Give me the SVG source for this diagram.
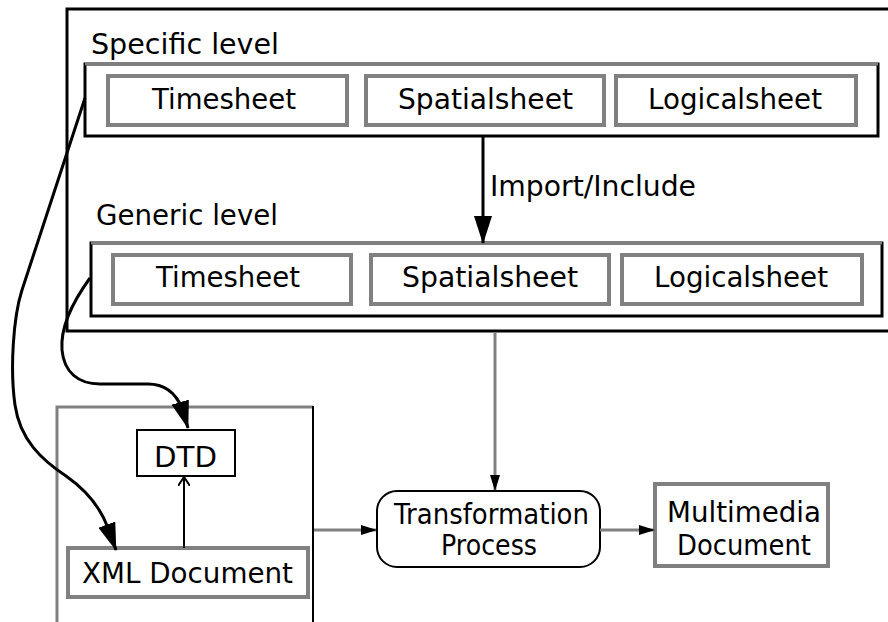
<svg xmlns="http://www.w3.org/2000/svg" width="888" height="622" viewBox="0 0 888 622">
<style>
  text { font-family: "DejaVu Sans", "Liberation Sans", sans-serif; font-size: 28px; fill: #000; }
  .sheet { fill: #fff; stroke: #808080; stroke-width: 4; }
  .level { fill: #fff; stroke: #000; stroke-width: 3; }
  .graytop { stroke: #808080; stroke-width: 3; fill: none; }
  .curve { fill: none; stroke: #000; stroke-width: 3; }
  .gline { fill: none; stroke: #808080; stroke-width: 3; }
</style>
<defs>
  <marker id="bigHead" viewBox="0 0 28 18" refX="27" refY="9" markerWidth="28" markerHeight="18" markerUnits="userSpaceOnUse" orient="auto">
    <path d="M0,0 L28,9 L0,18 Z" fill="#000"/>
  </marker>
  <marker id="smallHead" viewBox="0 0 16 10" refX="15" refY="5" markerWidth="16" markerHeight="10" markerUnits="userSpaceOnUse" orient="auto">
    <path d="M0,0 L16,5 L0,10 Z" fill="#000"/>
  </marker>
  <marker id="openHead" viewBox="0 0 10 12" refX="9" refY="6" markerWidth="10" markerHeight="12" markerUnits="userSpaceOnUse" orient="auto">
    <path d="M0,0 L9,6 L0,12" fill="none" stroke="#000" stroke-width="2"/>
  </marker>
</defs>

<g id="outer">
  <rect x="67" y="9" width="850" height="322" fill="#fff" stroke="#000" stroke-width="3"/>
</g>

<g id="specific-level">
  <text x="91" y="54" textLength="188" lengthAdjust="spacingAndGlyphs">Specific level</text>
  <rect class="level" x="85" y="64" width="793" height="72"/>
  <line class="graytop" x1="85" y1="64" x2="878" y2="64"/>
</g>
<g id="spec-timesheet">
  <rect class="sheet" x="108" y="76" width="239" height="49"/>
  <text x="152" y="109" textLength="144" lengthAdjust="spacingAndGlyphs">Timesheet</text>
</g>
<g id="spec-spatialsheet">
  <rect class="sheet" x="366" y="76" width="238" height="49"/>
  <text x="398" y="109" textLength="175" lengthAdjust="spacingAndGlyphs">Spatialsheet</text>
</g>
<g id="spec-logicalsheet">
  <rect class="sheet" x="616" y="76" width="240" height="49"/>
  <text x="648" y="109" textLength="174" lengthAdjust="spacingAndGlyphs">Logicalsheet</text>
</g>

<g id="generic-level">
  <text x="96" y="225" textLength="182" lengthAdjust="spacingAndGlyphs">Generic level</text>
  <rect class="level" x="91" y="243" width="791" height="73"/>
  <line class="graytop" x1="91" y1="243" x2="882" y2="243"/>
</g>
<g id="gen-timesheet">
  <rect class="sheet" x="113" y="255" width="238" height="49"/>
  <text x="156" y="287" textLength="144" lengthAdjust="spacingAndGlyphs">Timesheet</text>
</g>
<g id="gen-spatialsheet">
  <rect class="sheet" x="371" y="255" width="238" height="49"/>
  <text x="402" y="287" textLength="176" lengthAdjust="spacingAndGlyphs">Spatialsheet</text>
</g>
<g id="gen-logicalsheet">
  <rect class="sheet" x="622" y="255" width="240" height="49"/>
  <text x="654" y="287" textLength="174" lengthAdjust="spacingAndGlyphs">Logicalsheet</text>
</g>

<g id="container">
  <path d="M57,625 V407 H313" fill="none" stroke="#808080" stroke-width="3"/>
  <line x1="313" y1="406" x2="313" y2="625" stroke="#000" stroke-width="2"/>
</g>
<g id="dtd">
  <rect x="137" y="430" width="98" height="46" fill="#fff" stroke="#000" stroke-width="2"/>
  <text x="154" y="467" textLength="63" lengthAdjust="spacingAndGlyphs">DTD</text>
</g>
<g id="xml-document">
  <rect class="sheet" x="68" y="548" width="240" height="49"/>
  <text x="82" y="583" textLength="211" lengthAdjust="spacingAndGlyphs">XML Document</text>
</g>
<g id="transformation">
  <rect x="377" y="491" width="223" height="76" rx="20" ry="20" fill="#fff" stroke="#000" stroke-width="2"/>
  <text x="394" y="524" textLength="195" lengthAdjust="spacingAndGlyphs">Transformation</text>
  <text x="441" y="555" textLength="96" lengthAdjust="spacingAndGlyphs">Process</text>
</g>
<g id="multimedia">
  <rect class="sheet" x="655" y="484" width="173" height="82"/>
  <text x="667" y="522" textLength="154" lengthAdjust="spacingAndGlyphs">Multimedia</text>
  <text x="677" y="555" textLength="134" lengthAdjust="spacingAndGlyphs">Document</text>
</g>

<g id="connectors">
  <line x1="483" y1="137" x2="483" y2="243" stroke="#000" stroke-width="3" marker-end="url(#bigHead)"/>
  <text x="490" y="196" textLength="206" lengthAdjust="spacingAndGlyphs">Import/Include</text>
  <path class="curve" d="M85,98 L22,290 C13,318 10,370 15,405 C20,440 42,460 66,476 C86,490 100,506 108,528 L116,550" marker-end="url(#bigHead)"/>
  <path class="curve" d="M90,278 C74,300 60,325 62,350 C64,372 78,384 100,384 L148,384 C166,384 176,394 182,408 L188,428" marker-end="url(#bigHead)"/>
  <line x1="184" y1="548" x2="184" y2="477" stroke="#000" stroke-width="2" marker-end="url(#openHead)"/>
  <line class="gline" x1="495" y1="332" x2="495" y2="490" marker-end="url(#smallHead)"/>
  <line class="gline" x1="314" y1="530" x2="376" y2="530" marker-end="url(#smallHead)"/>
  <line class="gline" x1="600" y1="530" x2="654" y2="530" marker-end="url(#smallHead)"/>
</g>
</svg>
